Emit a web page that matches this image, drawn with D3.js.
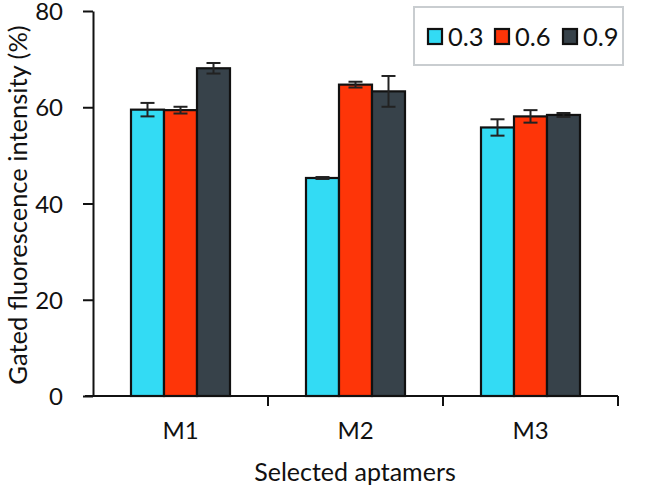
<!DOCTYPE html>
<html><head><meta charset="utf-8">
<script src="https://cdn.jsdelivr.net/npm/d3@7"></script>
<style>body{margin:0;background:#fff}svg{display:block}text{font-family:Lato,"Open Sans",sans-serif;fill:#111}</style>
</head><body><svg id="c" width="661" height="490"></svg>
<script>
const categories = ["M1","M2","M3"];
const seriesNames = ["0.3","0.6","0.9"];
const values = [[59.5,45.3,55.8],[59.4,64.7,58.1],[68.1,63.3,58.4]];
const errors = [[1.4,0.2,1.7],[0.7,0.6,1.3],[1.1,3.2,0.4]];
const yTicks = [0,20,40,60,80];
const colors = ["#33dbf4","#fe3508","#37424a"];

const svg = d3.select("#c");
const x0 = d3.scaleBand().domain(categories).range([93,618]);
const x1 = d3.scaleBand().domain(seriesNames).range([0,99]);
const y = d3.scaleLinear().domain([0,80]).range([396,11]);

seriesNames.forEach((s,si)=>{
  categories.forEach((c,ci)=>{
    const bx = x0(c) + (x0.bandwidth()-99)/2 + x1(s);
    const v = values[si][ci];
    svg.append("rect").attr("x",bx).attr("y",y(v)).attr("width",x1.bandwidth()).attr("height",y(0)-y(v))
      .attr("fill",colors[si]).attr("stroke","#111").attr("stroke-width",2.2);
  });
});
seriesNames.forEach((s,si)=>{
  categories.forEach((c,ci)=>{
    const cx = x0(c) + (x0.bandwidth()-99)/2 + x1(s) + x1.bandwidth()/2;
    const v = values[si][ci], e = errors[si][ci];
    const g = svg.append("g").attr("stroke","#222").attr("stroke-width",2);
    g.append("line").attr("x1",cx).attr("x2",cx).attr("y1",y(v+e)).attr("y2",y(v-e));
    g.append("line").attr("x1",cx-7).attr("x2",cx+7).attr("y1",y(v+e)).attr("y2",y(v+e));
    g.append("line").attr("x1",cx-7).attr("x2",cx+7).attr("y1",y(v-e)).attr("y2",y(v-e));
  });
});

const ya = svg.append("g").attr("transform","translate(93,0)")
  .call(d3.axisLeft(y).tickValues(yTicks).tickSize(10).tickSizeOuter(0).tickPadding(20));
ya.select(".domain").attr("stroke","#111").attr("stroke-width",2);
ya.selectAll(".tick line").attr("stroke","#111").attr("stroke-width",2);
ya.selectAll(".tick text").attr("font-size",24).attr("font-family","Lato").attr("fill","#111").attr("dy","0.36em");

const xa = svg.append("g").attr("transform","translate(0,396)")
  .call(d3.axisBottom(x0).tickSize(0).tickPadding(26));
xa.select(".domain").attr("stroke","#111").attr("stroke-width",2).attr("d","M85,0H618");
xa.selectAll(".tick text").attr("font-size",24).attr("font-family","Lato").attr("fill","#111");
categories.forEach(c=>{
  const bx = x0(c)+x0.bandwidth();
  svg.append("line").attr("x1",bx).attr("x2",bx).attr("y1",396).attr("y2",406).attr("stroke","#111").attr("stroke-width",2);
});

svg.append("text").attr("x",355).attr("y",481).attr("text-anchor","middle").attr("font-size",25).text("Selected aptamers");
svg.append("text").attr("transform","translate(27,205) rotate(-90)").attr("text-anchor","middle").attr("font-size",25.5).text("Gated fluorescence intensity (%)");

svg.append("rect").attr("x",414).attr("y",7).attr("width",209).attr("height",58).attr("fill","#fff").attr("stroke","#c9cdd0").attr("stroke-width",2);
const lx = [428,495,563];
seriesNames.forEach((s,i)=>{
  svg.append("rect").attr("x",lx[i]).attr("y",29).attr("width",14).attr("height",15).attr("fill",colors[i]).attr("stroke","#111").attr("stroke-width",2.2);
  svg.append("text").attr("x",lx[i]+20).attr("y",45.5).attr("font-size",25.5).text(s);
});
</script></body></html>
